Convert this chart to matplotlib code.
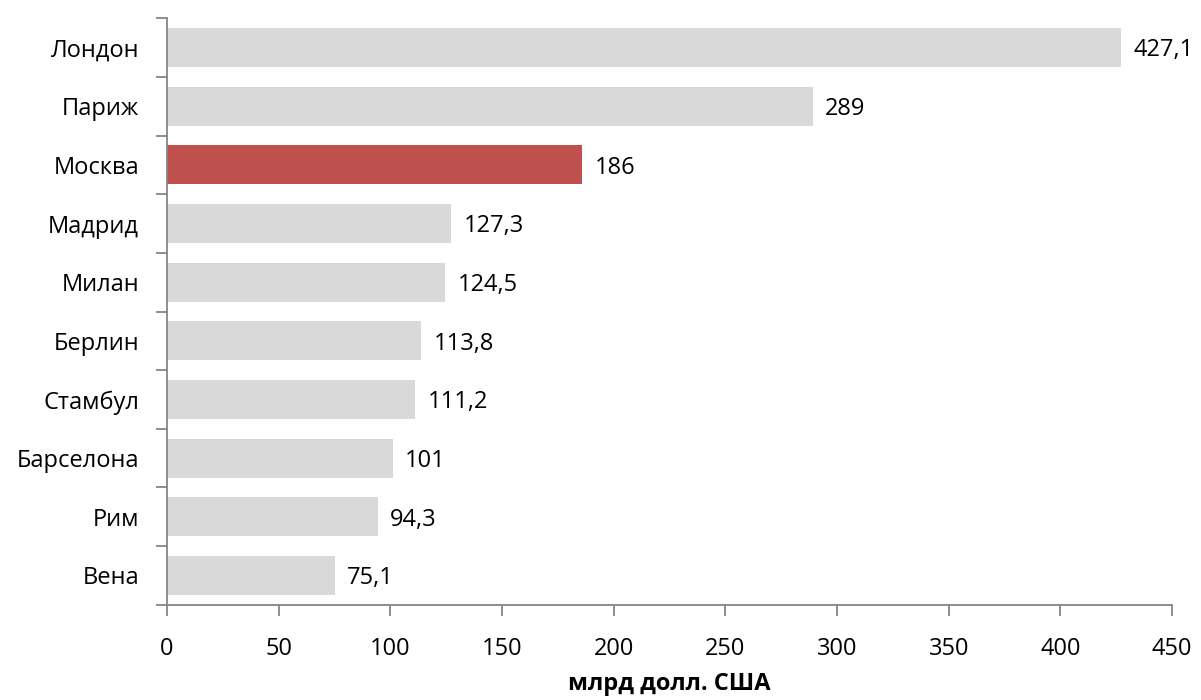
import matplotlib
matplotlib.use('Agg')
import matplotlib.pyplot as plt
from matplotlib.ticker import FixedLocator

plt.rcParams['font.family'] = ['Open Sans', 'DejaVu Sans']

cities = ['Лондон', 'Париж', 'Москва', 'Мадрид', 'Милан', 'Берлин',
          'Стамбул', 'Барселона', 'Рим', 'Вена']
values = [427.1, 289, 186, 127.3, 124.5, 113.8, 111.2, 101, 94.3, 75.1]
labels = ['427,1', '289', '186', '127,3', '124,5', '113,8', '111,2', '101', '94,3', '75,1']
highlight = 'Москва'

fs = 17

fig = plt.figure(figsize=(12.01, 7.0), dpi=100)
ax = fig.add_axes([0.139, 0.136, 0.837, 0.838])

pos = list(range(len(cities)))[::-1]
colors = ['#c0504d' if c == highlight else '#d9d9d9' for c in cities]
ax.barh(pos, values, height=0.66, color=colors)

for y, v, t in zip(pos, values, labels):
    ax.text(v + 5.5, y - 0.05, t, va='center', ha='left', fontsize=fs, color='black')

ax.set_xlim(0, 450)
ax.set_ylim(-0.5, len(cities) - 0.5)
ax.set_xticks(range(0, 451, 50))
ax.set_yticks(pos)
ax.set_yticklabels(cities)
ax.yaxis.set_minor_locator(FixedLocator([p - 0.5 for p in range(len(cities) + 1)]))
ax.tick_params(axis='y', which='major', length=0, pad=20, labelsize=fs)
ax.tick_params(axis='y', which='minor', length=8, width=1.3, color='#868686')
ax.tick_params(axis='x', length=8, width=1.3, color='#868686', pad=15, labelsize=fs)

for s in ['top', 'right']:
    ax.spines[s].set_visible(False)
for s in ['left', 'bottom']:
    ax.spines[s].set_color('#868686')
    ax.spines[s].set_linewidth(1.3)

ax.set_xlabel('млрд долл. США', fontsize=fs, fontweight='bold', labelpad=8)

fig.savefig('out.png', dpi=100)
